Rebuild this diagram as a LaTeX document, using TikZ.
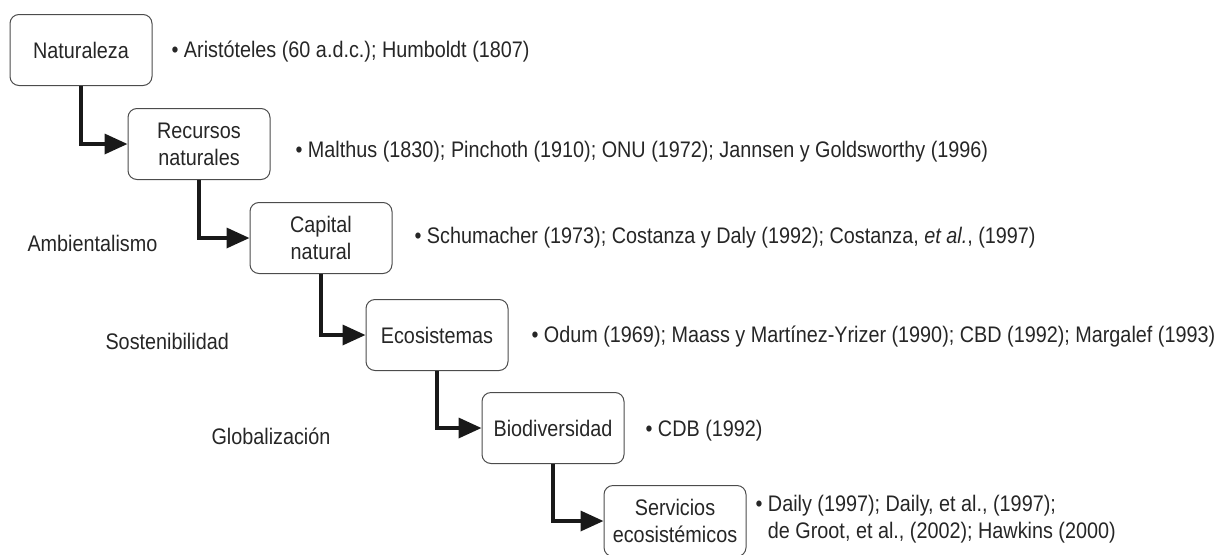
\documentclass[tikz,border=0pt]{standalone}
\usepackage{fontspec}
\setmainfont[FakeStretch=0.88]{Liberation Sans}
\usetikzlibrary{arrows.meta}
\usetikzlibrary{positioning}

\begin{document}
\begin{tikzpicture}
    [x=1pt, y=-1pt, font=\fontsize{22.5}{27}\selectfont,
     box/.style={draw=black!70, line width=1pt, rounded corners=9pt, align=center,
       minimum width=142pt, minimum height=71pt, inner sep=2pt, text=black!85},
     ref/.style={anchor=west, align=left, text=black!85},
     era/.style={anchor=west, text=black!85},
     link/.style={line width=3.5pt, black!90, -{Triangle[length=23pt, width=20pt]}}]
    \useasboundingbox (0, 0) rectangle (1214, 554);

    \node (1) [box] at (81, 50) {Naturaleza};
    \node (2) [box] at (199, 144) {Recursos\\naturales};
    \node (3) [box] at (321, 238) {Capital\\natural};
    \node (4) [box] at (437, 335) {Ecosistemas};
    \node (5) [box] at (553, 428) {Biodiversidad};
    \node (6) [box] at (675, 521) {Servicios\\ecosistémicos};

    \draw [link] (1) |- (2);
    \draw [link] (2) |- (3);
    \draw [link] (3) |- (4);
    \draw [link] (4) |- (5);
    \draw [link] (5) |- (6);

    \node (r1) [ref] at (168, 52) {• Aristóteles (60 a.d.c.); Humboldt (1807)};
    \node (r2) [ref] at (292, 152) {• Malthus (1830); Pinchoth (1910); ONU (1972); Jannsen y Goldsworthy (1996)};
    \node (r3) [ref] at (411, 238) {• Schumacher (1973); Costanza y Daly (1992); Costanza, \textit{et al.}, (1997)};
    \node (r4) [ref] at (528, 337) {• Odum (1969); Maass y Martínez-Yrizer (1990); CBD (1992); Margalef (1993)};
    \node (r5) [ref] at (642, 431) {• CDB (1992)};
    \node (r6) [ref] at (752, 519) {• Daily (1997); Daily, et al., (1997);\\
      \phantom{• }de Groot, et al., (2002); Hawkins (2000)};

    \node (a) [era] at (24, 243) {Ambientalismo};
    \node (s) [era] at (102, 341) {Sostenibilidad};
    \node (g) [era] at (208, 436) {Globalización};
  \end{tikzpicture}
\end{document}
